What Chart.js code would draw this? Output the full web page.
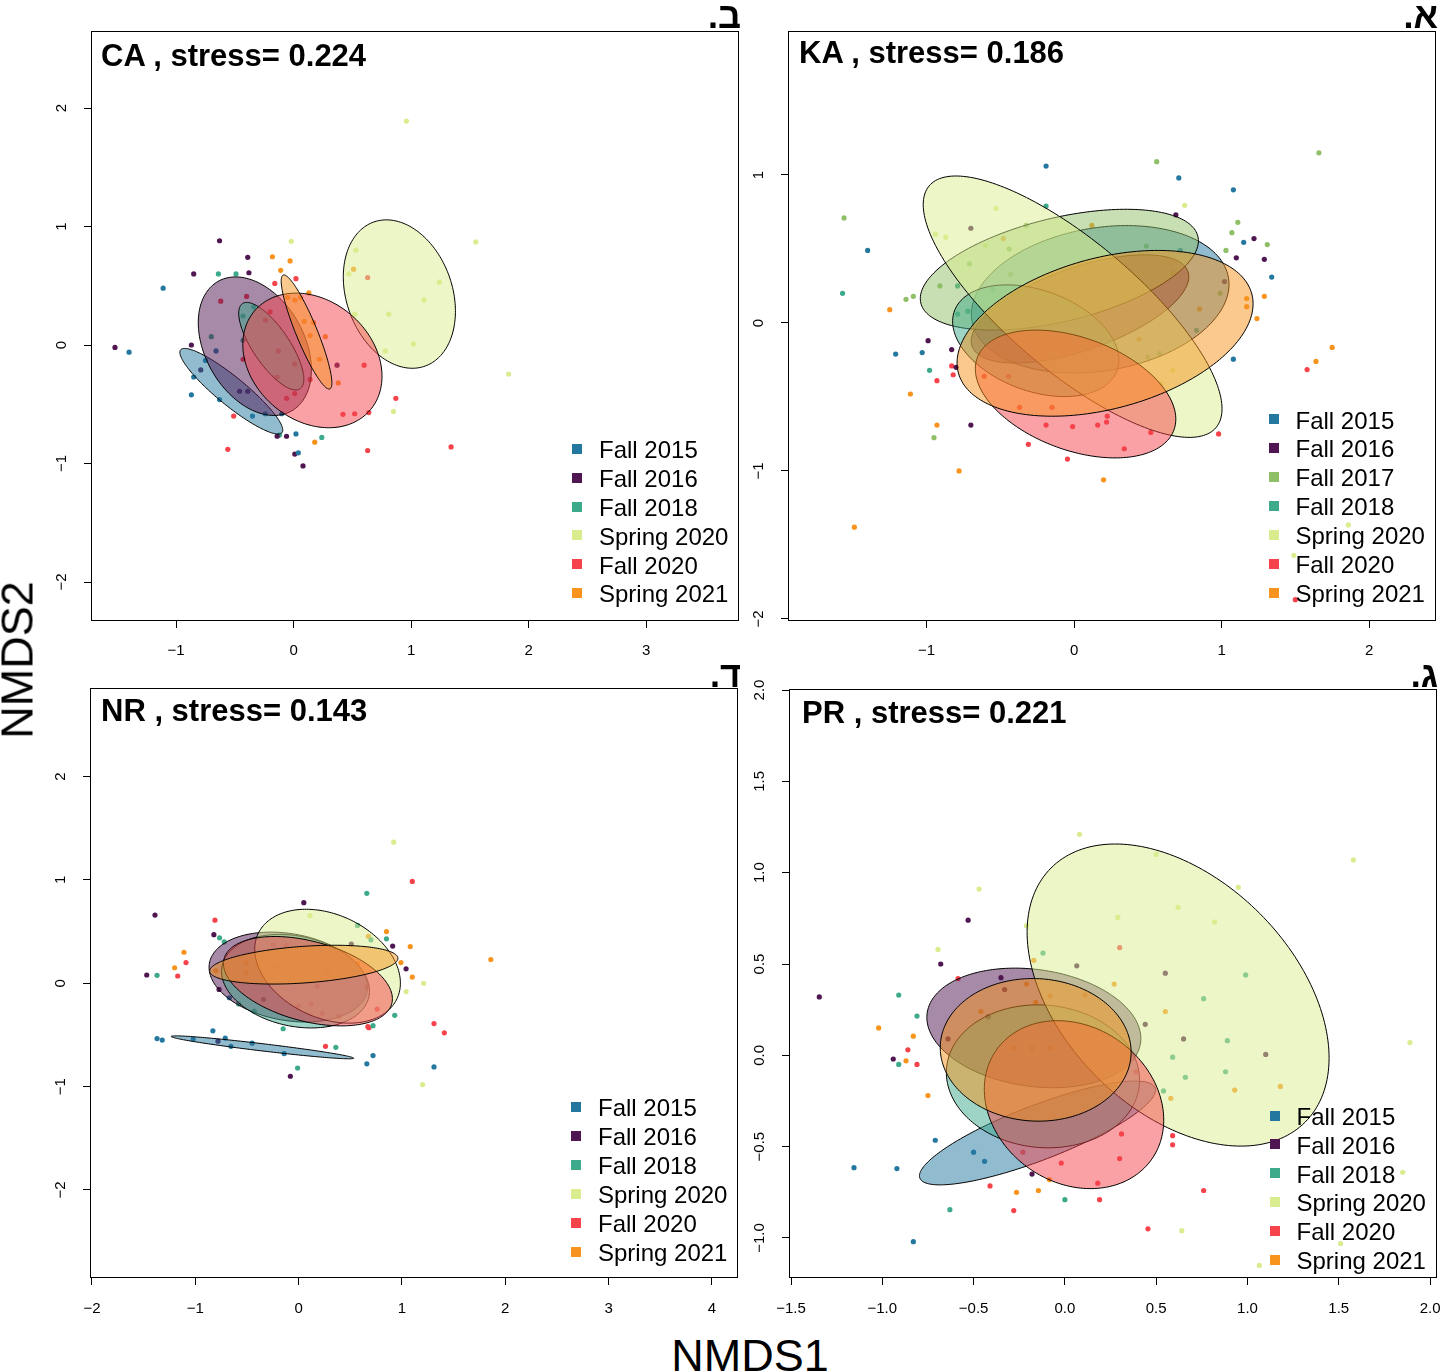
<!DOCTYPE html>
<html><head><meta charset="utf-8">
<script src="https://cdn.jsdelivr.net/npm/chart.js@4.4.1/dist/chart.umd.min.js"></script>
<style>
html,body{margin:0;padding:0;background:#fff;}
body{width:1444px;height:1372px;position:relative;overflow:hidden;font-family:"Liberation Sans",Arial,Helvetica,sans-serif;}
.abs{position:absolute;white-space:nowrap;line-height:1;color:#000;}
.sq{position:absolute;width:10px;height:10px;}
</style></head><body>
<script>
// ---------------- data ----------------
const GROUPS_6 = ["Fall 2015","Fall 2016","Fall 2018","Spring 2020","Fall 2020","Spring 2021"];
const GROUPS_7 = ["Fall 2015","Fall 2016","Fall 2017","Fall 2018","Spring 2020","Fall 2020","Spring 2021"];

// CA (ב)
const CA_fall2015 = [[-1.11,0.48],[-1.40,-0.06],[-0.75,-0.13],[-0.85,-0.27],[-0.87,-0.42],[-0.63,-0.46],[-0.35,-0.60],[-0.24,-0.58],[0.02,-0.75],[0.04,-0.91],[-0.10,-0.58],[-0.66,-0.05]];
const CA_fall2016 = [[-0.63,0.88],[-0.39,0.74],[-0.85,0.60],[-0.38,0.61],[-1.52,-0.02],[-0.87,0.00],[-0.14,-0.77],[-0.06,-0.77],[0.01,-0.92],[0.08,-1.02],[0.37,-0.17],[-0.46,-0.39],[-0.39,-0.39],[-0.79,-0.21]];
const CA_fall2018 = [[-0.64,0.60],[-0.49,0.60],[0.24,-0.78],[-0.43,0.245],[-0.70,0.07],[-0.43,0.04],[-0.34,0.32],[-0.12,-0.76]];
const CA_spring2020 = [[0.96,1.89],[-0.02,0.875],[1.55,0.87],[0.53,0.80],[0.47,0.60],[1.24,0.53],[1.11,0.38],[0.81,0.26],[0.52,0.26],[1.02,0.01],[0.78,-0.05],[1.83,-0.245],[0.85,-0.56]];
const CA_fall2020 = [[-0.16,0.52],[0.02,0.56],[0.60,-0.17],[0.87,-0.45],[0.42,-0.585],[0.52,-0.58],[0.64,-0.57],[0.63,-0.89],[1.34,-0.86],[-0.56,-0.88],[-0.51,-0.60],[-0.24,0.21],[-0.20,0.28],[-0.13,-0.05],[-0.14,-0.27],[0.01,-0.16],[-0.06,-0.45],[0.01,-0.41],[-0.43,-0.12],[0.14,-0.29],[-0.40,0.41],[-0.62,0.37],[0.63,0.57]];
const CA_spring2021 = [[-0.18,0.745],[-0.03,0.71],[-0.11,0.63],[0.13,0.44],[-0.05,0.40],[0.01,0.38],[0.06,0.40],[0.09,0.20],[0.17,0.19],[0.14,0.08],[0.27,0.07],[0.22,-0.12],[0.38,-0.32],[0.18,-0.82],[0.51,0.64]];
// ellipses: [centerX, centerY, semiAxisA, semiAxisB, angleDeg] in legend order
const CA_ellipses = [[-0.53,-0.39,0.555,0.12,-39],[-0.33,-0.01,0.63,0.42,-60],[-0.19,-0.01,0.435,0.155,-55.6],[0.90,0.43,0.646,0.45,-70],[0.16,-0.13,0.646,0.506,-40],[0.11,0.11,0.52,0.09,-67.5]];

// KA (א)
const KA_fall2015 = [[-0.19,1.06],[0.71,0.98],[1.08,0.90],[-1.40,0.49],[1.15,0.545],[1.34,0.31],[-1.21,-0.21],[-1.03,-0.20],[1.08,-0.245],[0.72,0.49]];
const KA_fall2016 = [[0.69,0.73],[1.22,0.57],[1.10,0.44],[1.29,0.43],[-0.99,-0.12],[-0.83,-0.18],[-0.80,-0.30],[-0.70,-0.69],[-0.70,0.64],[1.02,0.28]];
const KA_fall2017 = [[0.56,1.09],[1.66,1.15],[-1.56,0.71],[-1.14,0.16],[-1.09,0.18],[1.11,0.68],[1.07,0.61],[1.03,0.49],[1.31,0.53],[-0.95,-0.775],[0.99,0.20],[-0.91,0.25],[-0.44,0.50],[-0.325,0.66],[-0.71,0.40],[-0.43,0.33],[0.49,0.52],[0.67,0.34],[0.58,-0.205],[0.50,-0.23]];
const KA_fall2018 = [[-0.19,0.79],[-1.57,0.20],[-0.98,-0.32],[-0.79,0.25],[-0.72,0.08],[0.83,-0.05],[-0.79,0.06],[-0.55,0.225]];
const KA_spring2020 = [[-0.53,0.775],[-0.94,0.60],[-0.87,0.58],[0.75,0.795],[-0.60,0.525],[0.67,-0.32],[0.59,-0.41],[1.86,-1.365],[1.49,-1.57]];
const KA_fall2020 = [[1.58,-0.315],[-0.93,-0.39],[-0.82,-0.35],[-0.83,-0.29],[-0.31,-0.82],[-0.045,-0.92],[-0.19,-0.69],[0.225,-0.63],[0.22,-0.67],[0.52,-0.74],[0.98,-0.75],[1.50,-1.87],[-0.01,-0.70],[0.16,-0.69],[0.34,-0.85],[-0.61,-0.36],[-0.445,-0.36],[-0.37,-0.57],[-0.15,-0.57]];
const KA_spring2021 = [[-1.49,-1.38],[-1.25,0.09],[-1.11,-0.48],[-0.93,-0.69],[-0.78,-1.00],[0.20,-1.06],[1.75,-0.165],[1.64,-0.26],[1.29,0.18],[1.17,0.165],[1.17,0.11],[1.24,0.03],[0.85,0.095],[0.44,-0.11],[0.12,0.66],[-0.48,0.57]];
const KA_ellipses = [[0.177,0.16,0.882,0.483,9.5],[0.04,0.095,0.774,0.28,19],[-0.10,0.36,0.966,0.35,13.5],[-0.26,-0.12,0.587,0.34,-20],[-0.01,0.11,1.27,0.44,-40],[0.01,-0.48,0.71,0.38,-20],[0.21,-0.07,1.03,0.51,15]];

// NR (ד)
const NR_fall2015 = [[-1.37,-0.535],[-1.32,-0.55],[-1.02,-0.54],[-0.83,-0.46],[-0.71,-0.53],[-0.655,-0.61],[-0.45,-0.58],[-0.14,-0.68],[0.66,-0.78],[0.72,-0.70],[1.31,-0.81],[-0.67,-0.14]];
const NR_fall2016 = [[-1.39,0.66],[-1.47,0.08],[-0.82,0.47],[0.05,0.78],[0.91,0.36],[1.04,0.14],[-0.08,-0.90],[-0.78,-0.56],[-0.77,-0.06],[0.51,0.38],[-0.34,-0.155]];
const NR_fall2018 = [[-1.37,0.077],[-0.765,0.44],[-0.72,0.40],[0.66,0.87],[0.70,0.42],[0.85,0.43],[0.93,-0.31],[0.72,-0.41],[-0.15,-0.44],[0.36,-0.62],[-0.01,-0.82],[-0.58,-0.20],[-0.43,-0.27],[0.57,0.56]];
const NR_spring2020 = [[0.92,1.365],[0.11,0.655],[1.21,0.00],[1.04,-0.08],[1.20,-0.98]];
const NR_fall2020 = [[1.10,0.985],[-0.81,0.61],[-1.09,0.20],[-1.17,0.07],[1.31,-0.39],[1.41,-0.48],[0.26,-0.61],[0.67,-0.42],[0.68,-0.43],[0.76,-0.25],[-0.245,0.37],[-0.12,0.365],[0.00,-0.22],[0.12,-0.20],[0.23,-0.29],[0.39,-0.32],[0.655,-0.035],[0.18,-0.03]];
const NR_spring2021 = [[-1.11,0.30],[-1.20,0.15],[0.85,0.50],[1.08,0.355],[0.99,0.20],[1.10,0.06],[1.86,0.23],[0.675,0.455],[-0.80,0.12],[-0.51,0.10],[-0.23,0.16],[0.28,0.12],[0.57,0.19],[-0.51,0.20]];
const NR_ellipses = [[-0.35,-0.62,0.89,0.035,-6.8],[-0.10,0.06,0.775,0.42,-10],[-0.03,0.02,0.726,0.436,-12],[0.28,0.165,0.742,0.50,-25],[0.09,0.02,0.84,0.387,-15],[0.05,0.18,0.913,0.177,4]];

// PR (ג)
const PR_fall2015 = [[-1.155,-0.615],[-0.92,-0.62],[-0.83,-1.02],[-0.71,-0.465],[-0.50,-0.53],[-0.44,-0.58]];
const PR_fall2016 = [[-1.345,0.32],[-0.53,0.74],[-0.68,0.50],[-0.94,-0.02],[-0.18,-0.65],[-0.35,0.425],[-0.33,0.36],[0.065,0.49],[0.55,0.45],[0.44,0.17],[0.65,0.09],[1.10,0.005],[-0.64,0.09],[-0.42,0.21]];
const PR_fall2018 = [[-0.91,0.33],[-0.81,0.215],[-0.91,-0.05],[-0.63,-0.845],[0.00,-0.79],[-0.12,0.56],[0.76,0.31],[0.59,-0.01],[0.66,-0.12],[0.88,-0.09],[0.89,0.08],[0.54,-0.195],[0.99,0.44]];
const PR_spring2020 = [[0.08,1.21],[1.58,1.07],[-0.47,0.91],[-0.695,0.58],[0.50,1.10],[0.95,0.92],[0.62,0.81],[0.82,0.73],[0.29,0.755],[-0.21,0.71],[1.89,0.07],[1.85,-0.64],[1.51,-1.03],[1.065,-1.15],[0.64,-0.96]];
const PR_fall2020 = [[-0.585,0.42],[-0.86,0.03],[-0.81,-0.05],[-0.41,-0.715],[-0.28,-0.85],[0.19,-0.79],[0.31,-0.43],[0.59,-0.44],[0.59,-0.49],[0.76,-0.74],[0.455,-0.95],[0.18,-0.70],[0.30,0.59],[0.39,-0.09],[-0.23,-0.53],[0.30,-0.565],[-0.02,-0.59]];
const PR_spring2021 = [[-1.02,0.15],[-0.83,0.105],[-0.87,-0.03],[-0.75,-0.22],[-0.265,-0.75],[-0.145,-0.74],[-0.085,-0.68],[1.18,-0.17],[0.58,-0.235],[0.55,0.24],[0.27,0.39],[-0.17,0.52],[-0.21,0.39],[-0.08,0.325],[-0.16,0.29],[0.11,0.33],[-0.46,0.24],[-0.28,0.04],[-0.18,0.04],[-0.08,0.04],[0.93,-0.19]];
const PR_ellipses = [[-0.15,-0.425,0.69,0.15,21],[-0.17,0.15,0.59,0.32,-8],[-0.12,-0.115,0.53,0.39,-5],[0.62,0.33,0.984,0.632,-45],[0.05,-0.27,0.52,0.427,-35],[-0.16,0.03,0.523,0.39,-3]];

// ticks
const M = "\u2212";
const CA_xTicks = [-1,0,1,2,3];       const CA_xLabels = [M+"1","0","1","2","3"];
const CA_yTicks = [-2,-1,0,1,2];      const CA_yLabels = [M+"2",M+"1","0","1","2"];
const KA_xTicks = [-1,0,1,2];         const KA_xLabels = [M+"1","0","1","2"];
const KA_yTicks = [-2,-1,0,1];        const KA_yLabels = [M+"2",M+"1","0","1"];
const NR_xTicks = [-2,-1,0,1,2,3,4];  const NR_xLabels = [M+"2",M+"1","0","1","2","3","4"];
const NR_yTicks = [-2,-1,0,1,2];      const NR_yLabels = [M+"2",M+"1","0","1","2"];
const PR_xTicks = [-1.5,-1,-0.5,0,0.5,1,1.5,2]; const PR_xLabels = [M+"1.5",M+"1.0",M+"0.5","0.0","0.5","1.0","1.5","2.0"];
const PR_yTicks = [-1,-0.5,0,0.5,1,1.5,2];      const PR_yLabels = [M+"1.0",M+"0.5","0.0","0.5","1.0","1.5","2.0"];

// ---------------- style ----------------
const COLORS = {"Fall 2015":"#24789f","Fall 2016":"#4f1652","Fall 2017":"#8fbf66","Fall 2018":"#3eaa8c",
                "Spring 2020":"#d9ed8e","Fall 2020":"#f6434b","Spring 2021":"#f8941e"};
const FONT = '"Liberation Sans", Arial, Helvetica, sans-serif';

function rgba(hex,a){const n=parseInt(hex.slice(1),16);return `rgba(${n>>16},${(n>>8)&255},${n&255},${a})`;}

function makePanel(cfg){
  const L=60,T=40,R=30,B=45;
  const W=cfg.box[2]+L+R, H=cfg.box[3]+T+B;
  const wrap=document.createElement('div');
  wrap.style.cssText=`position:absolute;left:${cfg.box[0]-L}px;top:${cfg.box[1]-T}px;width:${W}px;height:${H}px;`;
  const cv=document.createElement('canvas'); cv.width=W; cv.height=H; cv.style.width=W+'px'; cv.style.height=H+'px';
  wrap.appendChild(cv); document.body.appendChild(wrap);
  const ellPlugin={id:'ell_'+cfg.id,
    afterDatasetsDraw(chart){
      const {ctx,chartArea:a,scales:{x,y}}=chart;
      ctx.save(); ctx.beginPath(); ctx.rect(a.left,a.top,a.right-a.left,a.bottom-a.top); ctx.clip();
      cfg.ellipses.forEach((r,i)=>{
        const [cx,cy,ea,eb,deg]=r, th=deg*Math.PI/180;
        ctx.beginPath();
        for(let k=0;k<=200;k++){
          const t=k/200*2*Math.PI, dx=ea*Math.cos(t), dy=eb*Math.sin(t);
          const px=x.getPixelForValue(cx+dx*Math.cos(th)-dy*Math.sin(th));
          const py=y.getPixelForValue(cy+dx*Math.sin(th)+dy*Math.cos(th));
          if(k===0)ctx.moveTo(px,py);else ctx.lineTo(px,py);
        }
        ctx.closePath();
        ctx.fillStyle=rgba(COLORS[cfg.groups[i]],0.5); ctx.fill();
        ctx.strokeStyle='#000'; ctx.lineWidth=1; ctx.stroke();
      });
      ctx.restore();
    },
    afterDraw(chart){
      const {ctx,chartArea:a}=chart;
      ctx.save(); ctx.strokeStyle='#000'; ctx.lineWidth=1;
      ctx.strokeRect(Math.round(a.left)+0.5,Math.round(a.top)+0.5,Math.round(a.right-a.left)-1,Math.round(a.bottom-a.top)-1);
      ctx.restore();
    }};
  new Chart(cv,{
    type:'scatter',
    data:{datasets:cfg.groups.map((g,i)=>({label:g,data:cfg.points[i].map(p=>({x:p[0],y:p[1]})),
      backgroundColor:COLORS[g],borderWidth:0,pointRadius:2.6,pointHoverRadius:2.6}))},
    options:{
      responsive:false,animation:false,devicePixelRatio:1,events:[],
      layout:{padding:{left:0,top:T,right:R,bottom:0}},
      plugins:{legend:{display:false},tooltip:{enabled:false}},
      scales:{
        x:{type:'linear',position:'bottom',min:cfg.xr[0],max:cfg.xr[1],
          afterBuildTicks:s=>{s.ticks=cfg.xt.map(v=>({value:v}));},
          afterFit:s=>{s.height=B;},
          ticks:{callback:(v,i)=>cfg.xl[i],font:{family:FONT,size:15},color:'#000',padding:cfg.xPad,minRotation:0,maxRotation:0,autoSkip:false},
          grid:{display:true,drawOnChartArea:false,drawTicks:true,tickLength:7,color:'#000',lineWidth:1},
          border:{display:false}},
        y:{type:'linear',position:'left',min:cfg.yr[0],max:cfg.yr[1],
          afterBuildTicks:s=>{s.ticks=cfg.yt.map(v=>({value:v}));},
          afterFit:s=>{s.width=L;},
          ticks:{callback:(v,i)=>cfg.yl[i],font:{family:FONT,size:15},color:'#000',padding:cfg.yPad,minRotation:90,maxRotation:90,crossAlign:'center',autoSkip:false},
          grid:{display:true,drawOnChartArea:false,drawTicks:true,tickLength:7,color:'#000',lineWidth:1},
          border:{display:false}}
      }
    },
    plugins:[ellPlugin]
  });
}

makePanel({id:'CA',box:[91,31,648,590],xr:[-1.724,3.79],yr:[-2.329,2.650],xt:CA_xTicks,xl:CA_xLabels,yt:CA_yTicks,yl:CA_yLabels,xPad:14,yPad:13.5,
  groups:GROUPS_6,points:[CA_fall2015,CA_fall2016,CA_fall2018,CA_spring2020,CA_fall2020,CA_spring2021],ellipses:CA_ellipses});
makePanel({id:'KA',box:[788,31,648,590],xr:[-1.940,2.454],yr:[-2.014,1.973],xt:KA_xTicks,xl:KA_xLabels,yt:KA_yTicks,yl:KA_yLabels,xPad:14,yPad:13.5,
  groups:GROUPS_7,points:[KA_fall2015,KA_fall2016,KA_fall2017,KA_fall2018,KA_spring2020,KA_fall2020,KA_spring2021],ellipses:KA_ellipses});
makePanel({id:'NR',box:[90,688,648,590],xr:[-2.019,4.252],yr:[-2.852,2.857],xt:NR_xTicks,xl:NR_xLabels,yt:NR_yTicks,yl:NR_yLabels,xPad:14.5,yPad:13.5,
  groups:GROUPS_6,points:[NR_fall2015,NR_fall2016,NR_fall2018,NR_spring2020,NR_fall2020,NR_spring2021],ellipses:NR_ellipses});
makePanel({id:'PR',box:[789,689,648,589],xr:[-1.511,2.038],yr:[-1.219,2.0055],xt:PR_xTicks,xl:PR_xLabels,yt:PR_yTicks,yl:PR_yLabels,xPad:15,yPad:7.3,
  groups:GROUPS_6,points:[PR_fall2015,PR_fall2016,PR_fall2018,PR_spring2020,PR_fall2020,PR_spring2021],ellipses:PR_ellipses});

// ---------------- text overlays ----------------
function text(str,x,baseline,size,opts={}){
  const d=document.createElement('div'); d.className='abs'; d.textContent=str;
  d.style.fontSize=size+'px'; d.style.top=(baseline-0.8465*size)+'px';
  if(opts.bold)d.style.fontWeight='bold';
  if(opts.right!==undefined){d.style.right=(1444-opts.right)+'px';}else{d.style.left=x+'px';}
  if(opts.dir)d.dir=opts.dir;
  document.body.appendChild(d); return d;
}
function legend(sqX,y0,txtX,groups){
  groups.forEach((g,i)=>{
    const cy=y0+i*28.9;
    const s=document.createElement('div'); s.className='sq';
    s.style.left=sqX+'px'; s.style.top=(cy-5)+'px'; s.style.background=COLORS[g];
    document.body.appendChild(s);
    text(g,txtX,cy+9.6,24);
  });
}
text("CA , stress= 0.224",101,66,31,{bold:true});
text("KA , stress= 0.186",799,63,31,{bold:true});
text("NR , stress= 0.143",101,721,31,{bold:true});
text("PR , stress= 0.221",802,723,31,{bold:true});
text("ב.",0,28.5,36,{bold:true,right:741,dir:'rtl'});
text("א.",0,28.5,36,{bold:true,right:1438,dir:'rtl'});
text("ד.",0,687,36,{bold:true,right:741,dir:'rtl'});
text("ג.",0,687,36,{bold:true,right:1438,dir:'rtl'});
legend(572,448.7,599,GROUPS_6);
legend(1269,419.3,1295.5,GROUPS_7);
legend(571,1107,598,GROUPS_6);
legend(1270,1115.5,1296.5,GROUPS_6);
// axis titles
const t1=text("NMDS1",0,1371,45,{}); t1.style.left='0px'; t1.style.width='1444px'; t1.style.textAlign='center'; t1.style.paddingLeft='56px'; t1.style.boxSizing='border-box';
const t2=document.createElement('div'); t2.className='abs'; t2.textContent="NMDS2"; t2.style.fontSize='45px';
t2.style.left='17px'; t2.style.top='660px'; t2.style.transform='translate(-50%,-50%) rotate(-90deg)'; t2.style.transformOrigin='50% 50%';
document.body.appendChild(t2);
</script>
</body></html>
